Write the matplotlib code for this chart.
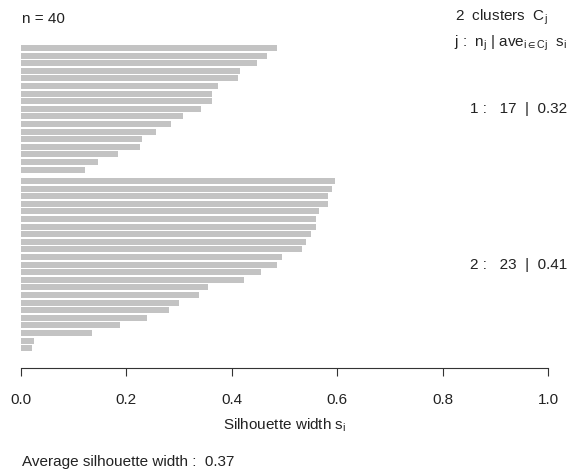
import numpy as np
import matplotlib.pyplot as plt
from matplotlib.transforms import blended_transform_factory

plt.rcParams['font.family'] = ['Liberation Sans', 'DejaVu Sans']
plt.rcParams['mathtext.fontset'] = 'custom'
plt.rcParams['mathtext.rm'] = 'Liberation Sans'
plt.rcParams['mathtext.it'] = 'Liberation Sans'

# silhouette widths per cluster, sorted descending
sil_c1 = [0.485, 0.467, 0.448, 0.416, 0.412, 0.374, 0.362, 0.362, 0.342,
          0.307, 0.284, 0.257, 0.229, 0.226, 0.185, 0.147, 0.122]
sil_c2 = [0.595, 0.590, 0.583, 0.583, 0.566, 0.560, 0.560, 0.550, 0.541,
          0.534, 0.495, 0.486, 0.455, 0.423, 0.355, 0.338, 0.300, 0.281,
          0.239, 0.187, 0.135, 0.025, 0.021]
clusters = [sil_c1, sil_c2]
xticks = [0.0, 0.2, 0.4, 0.6, 0.8, 1.0]

W, H = 570, 473
fig = plt.figure(figsize=(W / 100, H / 100), dpi=100)

def fx(px):
    return px / W

def fy(py):
    return 1 - py / H

ax = fig.add_axes([fx(21), fy(368), fx(548) - fx(21), fy(30) - fy(368)])

# stack clusters from the bottom: last cluster lowest, half-bar gap between
gap = 0.5
centers = []
pos = 0.0
for vals in reversed(clusters):
    ys = pos + np.arange(len(vals))[::-1] + 0.5
    ax.barh(ys, vals, height=0.8, color='#c3c3c3', edgecolor='none')
    centers.append(pos + len(vals) / 2)
    pos += len(vals) + gap
centers = centers[::-1]

ax.set_xlim(0, 1)
ax.set_ylim(-2.1, 42.37)
for s in ['top', 'right', 'left']:
    ax.spines[s].set_visible(False)
ax.spines['bottom'].set_bounds(0, 1)
ax.spines['bottom'].set_color('#333333')
ax.set_yticks([])
ax.set_xticks(xticks)
ax.set_xticklabels(['%.1f' % t for t in xticks])
ax.tick_params(axis='x', length=6, pad=12, labelsize=11, colors='#333333',
               labelcolor='#222222')

n = sum(len(v) for v in clusters)
avg_all = np.mean(sil_c1 + sil_c2)
txt = dict(fontsize=11, color='#222222', va='center')

fig.text(fx(285), fy(425), r'Silhouette width s$_\mathregular{i}$',
         ha='center', **txt)
fig.text(fx(22), fy(462), 'Average silhouette width :  %.2f' % avg_all,
         ha='left', **txt)
fig.text(fx(22), fy(19), 'n = %d' % n, ha='left', **txt)
fig.text(fx(548), fy(17), r'%d  clusters  C$_\mathregular{j}$' % len(clusters),
         ha='right', **txt)
fig.text(fx(567), fy(43),
         r'j :  n$_\mathregular{j}$ | ave$_{\mathregular{i\in Cj}}$  s$_\mathregular{i}$',
         ha='right', **txt)

# per-cluster size and mean width, at the right margin
trans = blended_transform_factory(fig.transFigure, ax.transData)
for k, (vals, yc) in enumerate(zip(clusters, centers), start=1):
    ax.text(fx(567), yc, '%d :   %d  |  %.2f' % (k, len(vals), np.mean(vals)),
            transform=trans, ha='right', **txt)

fig.savefig('out.png', dpi=100)
